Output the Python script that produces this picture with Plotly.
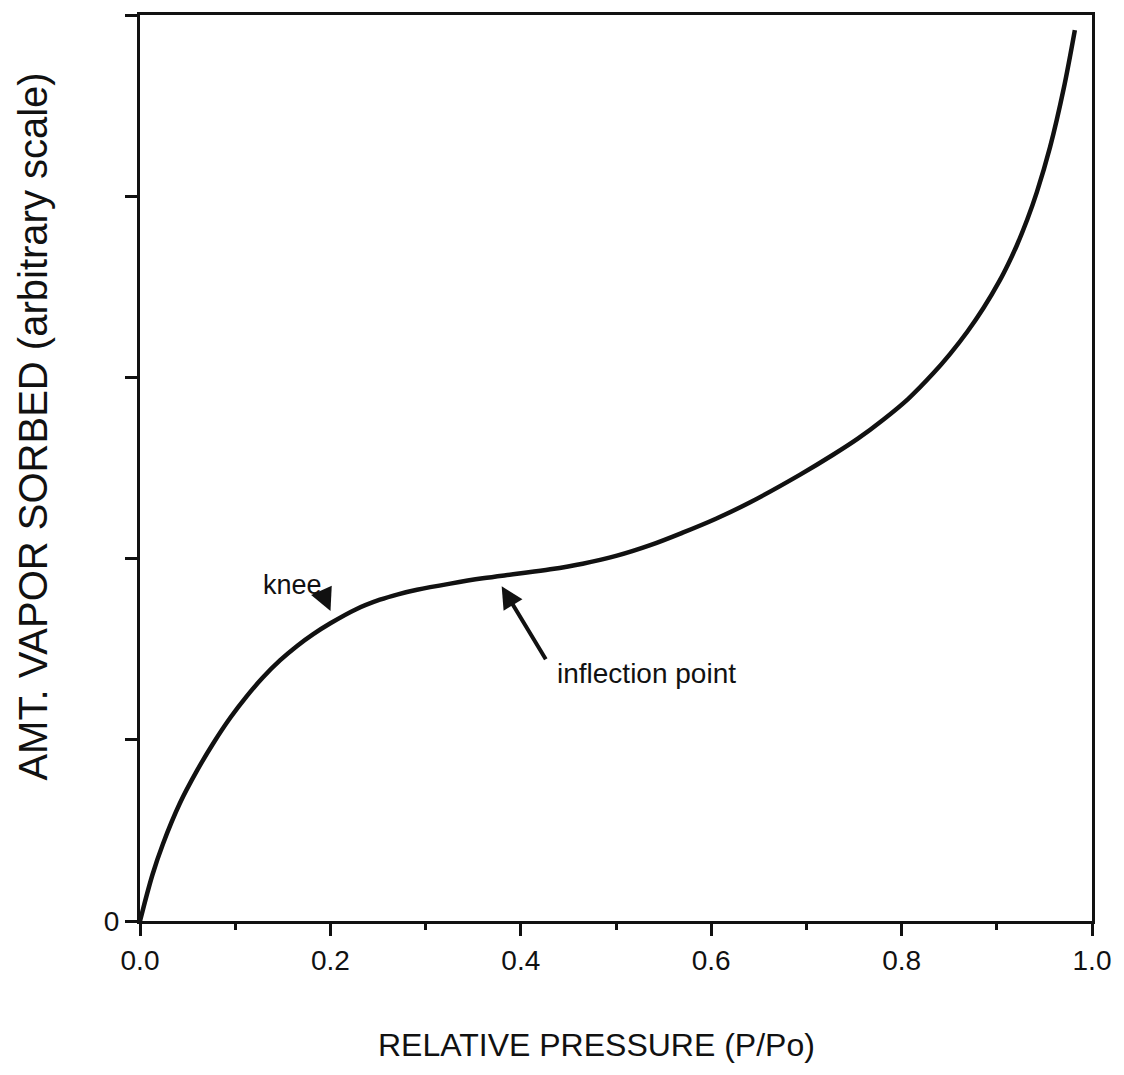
import plotly.graph_objects as go

# Data
rel_pressure = [0.0, 0.013, 0.024, 0.042, 0.060, 0.077, 0.095, 0.112, 0.129, 0.147,
                0.165, 0.182, 0.200, 0.226, 0.252, 0.271, 0.291, 0.326, 0.360, 0.396,
                0.431, 0.465, 0.501, 0.536, 0.570, 0.605, 0.641, 0.693, 0.728, 0.754,
                0.781, 0.807, 0.833, 0.851, 0.869, 0.886, 0.903, 0.912, 0.921, 0.932,
                0.942, 0.956, 0.970, 0.982]
amount_sorbed = [0.0, 0.254, 0.424, 0.651, 0.831, 0.981, 1.123, 1.240, 1.344, 1.438,
                 1.518, 1.583, 1.643, 1.718, 1.773, 1.803, 1.828, 1.862, 1.891, 1.916,
                 1.941, 1.972, 2.016, 2.074, 2.143, 2.220, 2.311, 2.462, 2.573, 2.662,
                 2.768, 2.882, 3.021, 3.130, 3.252, 3.383, 3.534, 3.626, 3.728, 3.871,
                 4.021, 4.272, 4.587, 4.917]

x_tickvals = [0.0, 0.2, 0.4, 0.6, 0.8, 1.0]
x_ticktext = ["0.0", "0.2", "0.4", "0.6", "0.8", "1.0"]
y_tickvals = [0, 1, 2, 3, 4, 5]
y_ticktext = ["0", "", "", "", "", ""]

FONT = "Liberation Sans, Arial, Helvetica, sans-serif"
INK = "#111111"

fig = go.Figure()
fig.add_trace(go.Scatter(
    x=rel_pressure, y=amount_sorbed, mode="lines",
    line=dict(color=INK, width=4.5, shape="spline", smoothing=1.0, simplify=False),
    hoverinfo="skip", showlegend=False,
))

fig.update_layout(
    width=1124, height=1075,
    margin=dict(l=140, r=32, t=12, b=154),
    paper_bgcolor="white", plot_bgcolor="white",
    font=dict(family=FONT, color=INK),
    showlegend=False,
)

fig.update_xaxes(
    range=[0, 1], tickvals=x_tickvals, ticktext=x_ticktext,
    ticks="outside", ticklen=12, tickwidth=3, tickcolor=INK,
    showline=True, linewidth=3, linecolor=INK, mirror=True,
    showgrid=False, zeroline=False,
    tickfont=dict(size=28, family=FONT, color=INK),
    minor=dict(dtick=0.1, tick0=0, ticks="outside", ticklen=6, tickwidth=3,
               tickcolor=INK, showgrid=False),
)
fig.update_yaxes(
    range=[0, 5], tickvals=y_tickvals, ticktext=y_ticktext,
    ticks="outside", ticklen=12, tickwidth=3, tickcolor=INK,
    showline=True, linewidth=3, linecolor=INK, mirror=True,
    showgrid=False, zeroline=False,
    tickfont=dict(size=28, family=FONT, color=INK),
)

# Axis titles
fig.add_annotation(text="RELATIVE PRESSURE (P/Po)", xref="paper", yref="paper",
                   x=0.479, y=-0.1364, xanchor="center", yanchor="middle",
                   showarrow=False, font=dict(size=32, family=FONT, color=INK))
fig.add_annotation(text="AMT. VAPOR SORBED (arbitrary scale)", xref="paper", yref="paper",
                   x=-0.1124, y=0.5457, xanchor="center", yanchor="middle",
                   textangle=-90, showarrow=False,
                   font=dict(size=40, family=FONT, color=INK))

# knee label + arrow
fig.add_annotation(text="knee", x=0.1597, y=1.854, xref="x", yref="y",
                   showarrow=False, xanchor="center", yanchor="middle",
                   font=dict(size=27, family=FONT, color=INK))
fig.add_annotation(text="", x=0.2001, y=1.711, ax=0.1909, ay=1.821,
                   xref="x", yref="y", axref="x", ayref="y",
                   showarrow=True, arrowhead=2, arrowsize=1.5, arrowwidth=3,
                   arrowcolor=INK)

# inflection point label + arrow
fig.add_annotation(text="inflection point", x=0.436, y=1.364, xref="x", yref="y",
                   showarrow=False, xanchor="left", yanchor="middle",
                   font=dict(size=28, family=FONT, color=INK))
fig.add_annotation(text="", x=0.3799, y=1.848, ax=0.4272, ay=1.436,
                   xref="x", yref="y", axref="x", ayref="y",
                   showarrow=True, arrowhead=2, arrowsize=1.1, arrowwidth=4,
                   arrowcolor=INK)

fig.write_html("out.html")
